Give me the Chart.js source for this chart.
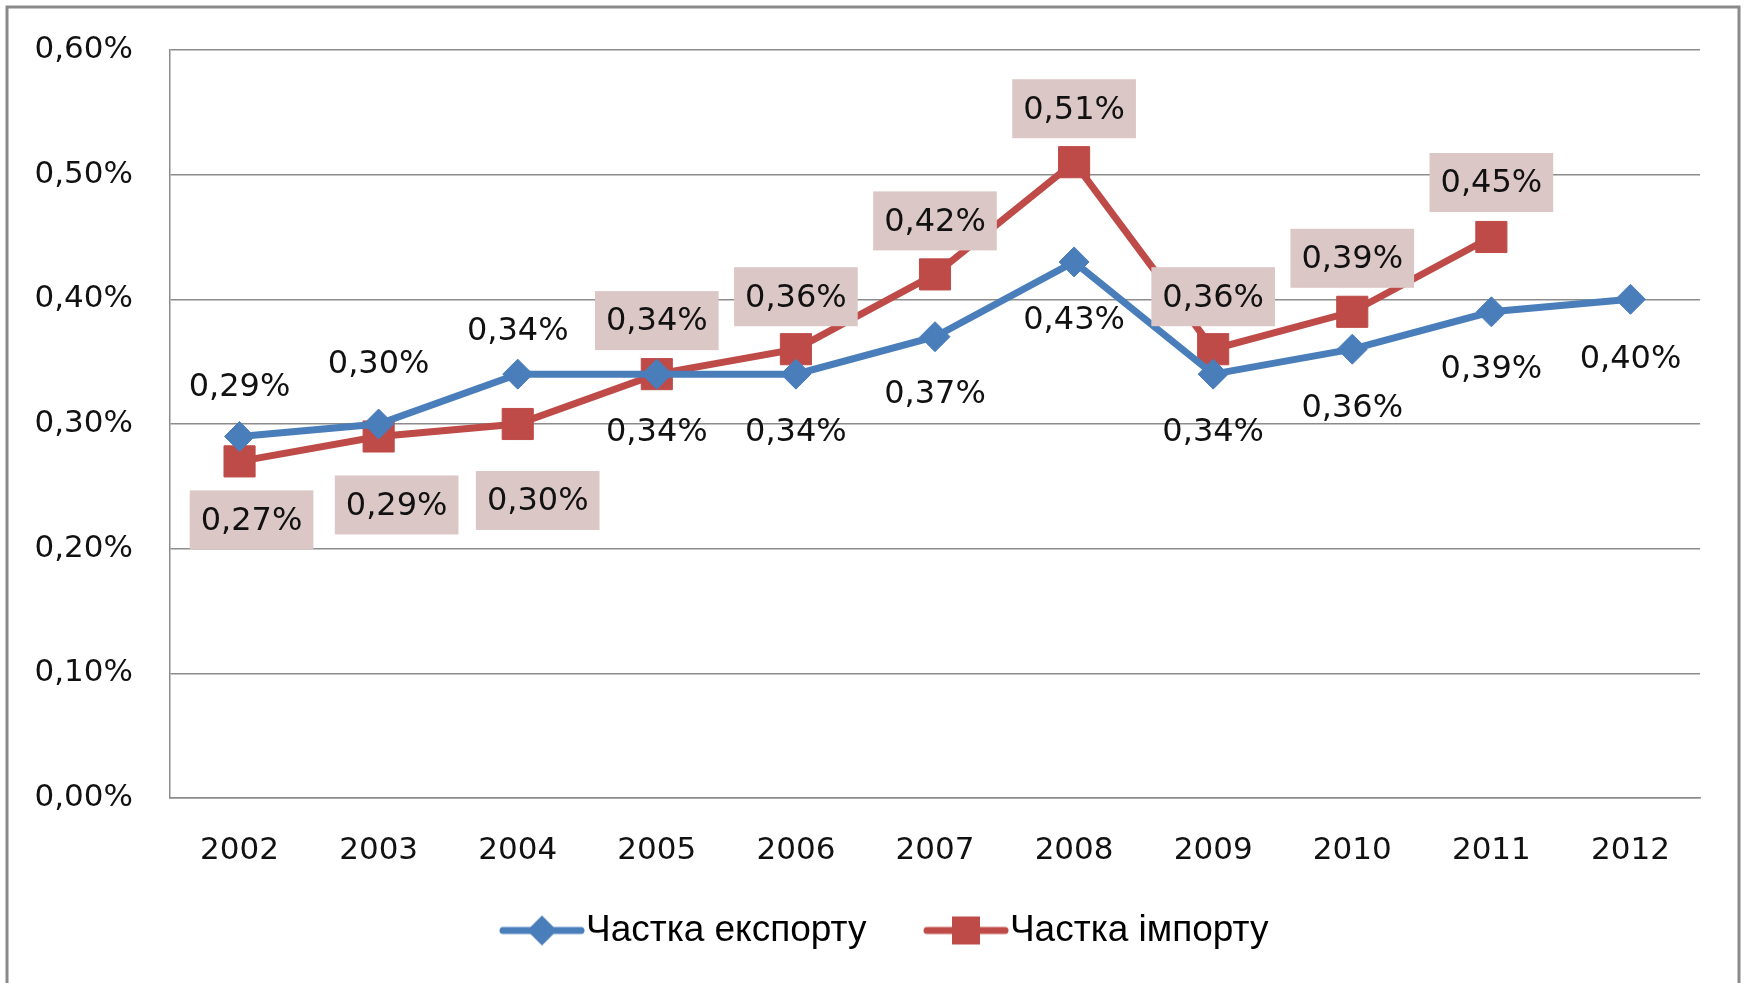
<!DOCTYPE html>
<html>
<head>
<meta charset="utf-8">
<script src="https://cdn.jsdelivr.net/npm/chart.js@4"></script>
<style>
  body { margin: 0; background: #fff; }
  canvas { display: block; }
</style>
</head>
<body>
<canvas id="lineChart" width="1744" height="983"></canvas>
<script>
var years = ['2002', '2003', '2004', '2005', '2006', '2007', '2008', '2009', '2010', '2011', '2012'];
var exportShare = [0.29, 0.30, 0.34, 0.34, 0.34, 0.37, 0.43, 0.34, 0.36, 0.39, 0.40];
var importShare = [0.27, 0.29, 0.30, 0.34, 0.36, 0.42, 0.51, 0.36, 0.39, 0.45, null];
var yTickLabels = ['0,00%', '0,10%', '0,20%', '0,30%', '0,40%', '0,50%', '0,60%'];

var blue = '#4a7ebb';
var red = '#be4b48';
var numFont = '"DejaVu Sans", Verdana, sans-serif';

// label nudges from the point (pixels), the way the original was laid out
var exportLabelDy = [-51, -61, -44, 57, 57, 56, 57, 57, 57, 56, 58];
var exportLabelDx = [0, 0, 0, 0, 0, 0, 0, 0, 0, 0, 0];
var importLabelDy = [58, 68, 76, -54, -53, -54, -54, -53, -54, -55, 0];
var importLabelDx = [12, 18, 20, 0, 0, 0, 0, 0, 0, 0, 0];

function fmt(v) {
    return v.toFixed(2).replace('.', ',') + '%';
}

// legend swatch: blank lead-in, then a short line with the marker on top
function swatch(color, style) {
    var c = document.createElement('canvas');
    c.width = 152; c.height = 34;
    var g = c.getContext('2d');
    var x0 = 66, x1 = 150, mid = (x0 + x1) / 2;
    g.strokeStyle = color;
    g.lineWidth = 7;
    g.lineCap = 'round';
    g.beginPath(); g.moveTo(x0 + 3, 17); g.lineTo(x1 - 3, 17); g.stroke();
    g.fillStyle = color;
    if (style === 'diamond') {
        g.beginPath();
        g.moveTo(mid, 2); g.lineTo(mid + 15, 17); g.lineTo(mid, 32); g.lineTo(mid - 15, 17);
        g.closePath(); g.fill();
    } else {
        g.fillRect(mid - 14, 3, 28, 28);
    }
    return c;
}

var frame = {
    id: 'frame',
    beforeDraw: function(chart) {
        var ctx = chart.ctx;
        ctx.save();
        ctx.fillStyle = '#fff';
        ctx.fillRect(0, 0, chart.width, chart.height);
        ctx.strokeStyle = '#8a8a8a';
        ctx.lineWidth = 3;
        ctx.strokeRect(7, 7, chart.width - 12, chart.height + 20);
        ctx.restore();
    }
};

// the original legend sits left of centre
var legendShift = {
    id: 'legendShift',
    afterLayout: function(chart) {
        var lg = chart.legend;
        lg.left = 0;
        lg.right = 895 + lg.lineWidths[0];
    }
};

var valueLabels = {
    id: 'valueLabels',
    afterDatasetsDraw: function(chart) {
        var ctx = chart.ctx;
        ctx.save();
        ctx.font = '32px ' + numFont;
        ctx.textAlign = 'center';
        ctx.textBaseline = 'middle';
        chart.data.datasets.forEach(function(ds, di) {
            var meta = chart.getDatasetMeta(di);
            var dys = di === 0 ? exportLabelDy : importLabelDy;
            var dxs = di === 0 ? exportLabelDx : importLabelDx;
            meta.data.forEach(function(pt, i) {
                var v = ds.data[i];
                if (v === null) return;
                var txt = fmt(v);
                var x = pt.x + dxs[i];
                var y = pt.y + dys[i];
                if (ds.labelBox) {
                    var w = ctx.measureText(txt).width + 22;
                    ctx.fillStyle = ds.labelBox;
                    ctx.fillRect(x - w / 2, y - 29, w, 59);
                }
                ctx.fillStyle = '#111';
                ctx.fillText(txt, x, y + 2);
            });
        });
        ctx.restore();
    }
};

var ctx1 = document.getElementById('lineChart').getContext('2d');
var lineChart = new Chart(ctx1, {
    type: 'line',
    data: {
        labels: years,
        datasets: [{
            label: 'Частка експорту',
            data: exportShare,
            borderColor: blue,
            backgroundColor: blue,
            borderWidth: 7,
            pointStyle: 'rectRot',
            pointRadius: 15,
            pointBorderWidth: 1,
            legendSwatch: swatch(blue, 'diamond')
        }, {
            label: 'Частка імпорту',
            data: importShare,
            borderColor: red,
            backgroundColor: red,
            borderWidth: 7,
            pointStyle: 'rect',
            pointRadius: 22,
            pointBorderWidth: 1,
            labelBox: '#dbc7c6',
            legendSwatch: swatch(red, 'square')
        }]
    },
    options: {
        responsive: false,
        animation: false,
        layout: { padding: { left: 0, right: 44, top: 50, bottom: 24 } },
        plugins: {
            tooltip: { enabled: false },
            legend: {
                position: 'bottom',
                labels: {
                    usePointStyle: true,
                    pointStyleWidth: 115,
                    padding: 10,
                    color: '#111',
                    font: { family: '"Liberation Sans Narrow", "Arial Narrow", sans-serif', size: 37 },
                    generateLabels: function(chart) {
                        return chart.data.datasets.map(function(ds, i) {
                            return {
                                text: ds.label,
                                pointStyle: ds.legendSwatch,
                                fillStyle: ds.borderColor,
                                strokeStyle: ds.borderColor,
                                lineWidth: 0,
                                datasetIndex: i
                            };
                        });
                    }
                }
            }
        },
        scales: {
            x: {
                offset: true,
                grid: { display: false, drawTicks: false },
                border: { display: true, color: '#8c8c8c', width: 1.5 },
                ticks: { color: '#111', padding: 34, font: { family: numFont, size: 31 } },
                afterFit: function(scale) { scale.height = 104; }
            },
            y: {
                min: 0,
                max: 0.6,
                grid: { color: '#8c8c8c', lineWidth: 1.5, drawTicks: false },
                border: { display: true, color: '#8c8c8c', width: 1.5 },
                ticks: {
                    stepSize: 0.1,
                    color: '#111',
                    padding: 37,
                    font: { family: numFont, size: 31 },
                    callback: function(v, i) { return yTickLabels[i]; }
                },
                afterFit: function(scale) {
                    scale.width = 170;
                    // tick padding is horizontal here; don't let it push the plot down
                    scale.paddingTop = 20;
                    scale.paddingBottom = 20;
                }
            }
        }
    },
    plugins: [frame, legendShift, valueLabels]
});
</script>
</body>
</html>
